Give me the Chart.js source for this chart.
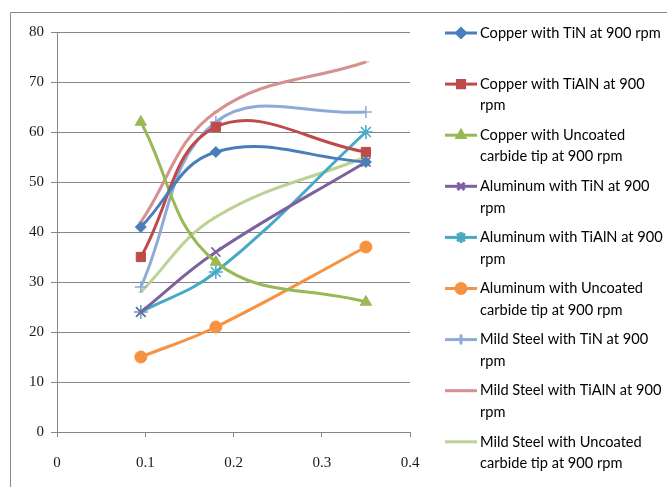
<!DOCTYPE html>
<html>
<head>
<meta charset="utf-8">
<script src="https://cdn.jsdelivr.net/npm/chart.js@4/dist/chart.umd.min.js"></script>
<style>
  html, body { margin: 0; padding: 0; background: #ffffff; }
  #wrap { position: relative; width: 667px; height: 487px; }
</style>
</head>
<body>
<div id="wrap"><canvas id="c" width="667" height="487"></canvas></div>
<script>
// Feed rate (x) and measured values for each tool / material combination
const feedRates = [0.095, 0.18, 0.35];

// Series names; "\n" marks where the legend text breaks onto a second line
const seriesNames = [
  "Copper with TiN at 900 rpm",
  "Copper with TiAlN at 900\nrpm",
  "Copper with Uncoated\ncarbide tip at 900 rpm",
  "Aluminum with TiN at 900\nrpm",
  "Aluminum with TiAlN at 900\nrpm",
  "Aluminum with Uncoated\ncarbide tip at 900 rpm",
  "Mild Steel with TiN at 900\nrpm",
  "Mild Steel with TiAlN at 900\nrpm",
  "Mild Steel with Uncoated\ncarbide tip at 900 rpm"
];

const copperTiN        = [41, 56, 54];
const copperTiAlN      = [35, 61, 56];
const copperUncoated   = [62, 34, 26];
const aluminumTiN      = [24, 36, 54];
const aluminumTiAlN    = [24, 32, 60];
const aluminumUncoated = [15, 21, 37];
const steelTiN         = [29, 62, 64];
const steelTiAlN       = [42, 64, 74];
const steelUncoated    = [28, 43, 55];

const xTicks = [0, 0.1, 0.2, 0.3, 0.4];
const yTicks = [0, 10, 20, 30, 40, 50, 60, 70, 80];

const seriesValues = [copperTiN, copperTiAlN, copperUncoated, aluminumTiN, aluminumTiAlN,
                      aluminumUncoated, steelTiN, steelTiAlN, steelUncoated];

// Line colour, marker shape and marker size for each series
const styles = [
  { color: '#4a7ebb', point: 'rectRot', r: 5.5, legendR: 4.5 },
  { color: '#be4b48', point: 'rect',    r: 6.5, legendR: 5 },
  { color: '#98b954', point: 'triangle',r: 6.5, legendR: 4.5 },
  { color: '#7d60a0', point: 'crossRot',r: 6.5, legendR: 5 },
  { color: '#46aac5', point: 'star',    r: 7,   legendR: 5.5 },
  { color: '#f69240', point: 'circle',  r: 6,   legendR: 5 },
  { color: '#8eaad6', point: 'cross',   r: 6,   legendR: 5 },
  { color: '#d6918f', point: 'line',    r: 3,   legendR: 0 },
  { color: '#bcd293', point: 'line',    r: 3,   legendR: 0 }
];

const datasets = seriesNames.map((name, i) => ({
  label: name.replace('\n', ' '),
  legendLines: name.split('\n'),
  data: feedRates.map((x, j) => ({ x: x, y: seriesValues[i][j] })),
  borderColor: styles[i].color,
  backgroundColor: styles[i].color,
  borderWidth: 3,
  pointStyle: styles[i].point,
  pointRadius: styles[i].r,
  pointBorderWidth: (styles[i].point === 'cross' || styles[i].point === 'crossRot' || styles[i].point === 'star') ? 1.5 : 1,
  pointBackgroundColor: styles[i].color,
  pointBorderColor: styles[i].color,
  tension: 0.4,
  fill: false
}));

const TICK_FONT = { family: "'Liberation Serif', 'DejaVu Serif', serif", size: 15 };
const LEGEND_FONT = "14.6px Lato, 'Liberation Sans', sans-serif";

// Outer frame line around the chart object
const framePlugin = {
  id: 'frame',
  beforeDraw(chart) {
    const ctx = chart.ctx;
    ctx.save();
    ctx.strokeStyle = '#8c8c8c';
    ctx.lineWidth = 1;
    ctx.beginPath();
    ctx.moveTo(10.5, chart.height);
    ctx.lineTo(10.5, 12.5);
    ctx.lineTo(chart.width, 12.5);
    ctx.stroke();
    ctx.restore();
  }
};

// Side legend, one two-line slot per series
const sideLegend = {
  id: 'sideLegend',
  afterDraw(chart) {
    const ctx = chart.ctx;
    const left = 445, sampleW = 32, textX = 480, top = 33, slot = 51.1, lineH = 21.5;
    ctx.save();
    ctx.font = LEGEND_FONT;
    ctx.textBaseline = 'middle';
    ctx.textAlign = 'left';
    chart.data.datasets.forEach((ds, i) => {
      const y = top + i * slot;
      ctx.strokeStyle = ds.borderColor;
      ctx.lineWidth = 3;
      ctx.beginPath();
      ctx.moveTo(left, y);
      ctx.lineTo(left + sampleW, y);
      ctx.stroke();
      const r = styles[i].legendR;
      if (r > 0) {
        ctx.fillStyle = ds.pointBackgroundColor;
        ctx.strokeStyle = ds.pointBorderColor;
        Chart.helpers.drawPoint(ctx, {
          pointStyle: ds.pointStyle, radius: r, rotation: 0, borderWidth: ds.pointBorderWidth
        }, left + sampleW / 2, y);
      }
      ctx.fillStyle = '#000000';
      ds.legendLines.forEach((ln, j) => {
        ctx.fillText(ln, textX, y + j * lineH);
      });
    });
    ctx.restore();
  }
};

new Chart(document.getElementById('c'), {
  type: 'line',
  data: { datasets: datasets },
  plugins: [framePlugin, sideLegend],
  options: {
    responsive: false,
    animation: false,
    events: [],
    layout: { padding: { left: 0, top: 32, right: 257, bottom: 0 } },
    plugins: { legend: { display: false }, tooltip: { enabled: false } },
    scales: {
      x: {
        type: 'linear',
        min: xTicks[0],
        max: xTicks[xTicks.length - 1],
        afterBuildTicks(scale) { scale.ticks = xTicks.map(v => ({ value: v })); },
        afterFit(scale) { scale.height = 55; },
        border: { display: true, color: '#868686', width: 1 },
        grid: { drawOnChartArea: false, drawTicks: true, tickLength: 5, color: '#868686' },
        ticks: { color: '#1a1a1a', font: TICK_FONT, padding: 17, maxRotation: 0,
                 callback: v => String(v) }
      },
      y: {
        min: yTicks[0],
        max: yTicks[yTicks.length - 1],
        afterBuildTicks(scale) { scale.ticks = yTicks.map(v => ({ value: v })); },
        afterFit(scale) { scale.width = 57; },
        border: { display: true, color: '#868686', width: 1 },
        grid: { color: '#868686', lineWidth: 1, drawTicks: true, tickLength: 6 },
        ticks: { color: '#1a1a1a', font: TICK_FONT, padding: 7, callback: v => String(v) }
      }
    }
  }
});
</script>
</body>
</html>
